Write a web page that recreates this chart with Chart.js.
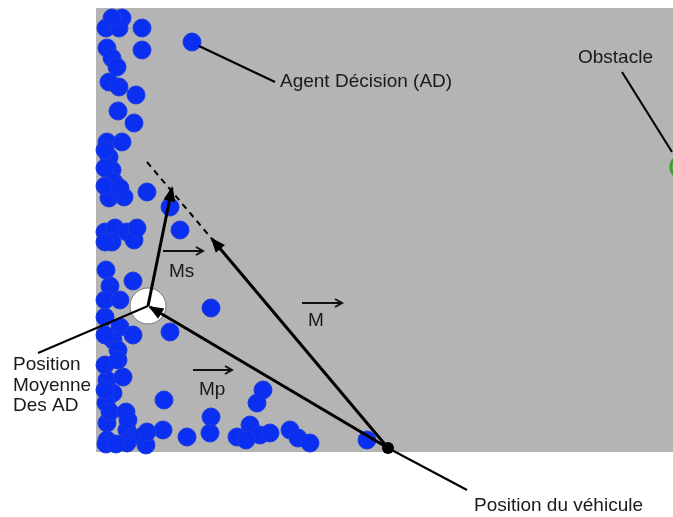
<!DOCTYPE html>
<html>
<head>
<meta charset="utf-8">
<script src="https://cdn.jsdelivr.net/npm/chart.js@4"></script>
<style>
  html, body { margin: 0; padding: 0; background: #fff; }
</style>
</head>
<body>
<canvas id="scene" width="673" height="517"></canvas>
<script>
// agent positions (Agents Décision), in picture units (y grows downward)
const agentX = [122,106,119,142,192,107,142,112,117,109,119,136,118,134,107,122,109,112,114,109,124,147,170,180,
  105,115,127,134,112,106,110,133,105,120,113,133,211,170,
  107,123,113,106,164,211,107,127,141,163,107,127,146,187,210,
  263,257,250,237,260,270,290,298,310,367,
  112,105,105,105,120,105,105,120,137,105,118,105,110,126,106,116,128,147,105,118,246];
const agentY = [18,28,28,28,42,48,50,58,67,82,87,95,111,123,142,142,157,170,182,198,197,192,207,230,
  232,228,232,240,242,270,286,281,317,327,340,335,308,332,
  380,377,393,403,400,417,423,430,437,430,440,443,445,437,433,
  390,403,425,437,435,433,430,438,443,440,
  18,150,168,186,188,242,300,300,228,335,350,390,412,412,444,444,420,432,365,360,440];

const meanPos = [148, 306];
const vehiclePos = [388, 448];
const obstaclePos = [683, 167];

// vectors
const vecMs = [[148, 306], [172, 188]];
const vecM = [[388, 448], [212, 239]];
const vecMp = [[388, 448], [150, 307]];
const vecMExtension = [[147, 162], [212, 239]];

// leader lines to the labels
const leaderAD = [[199, 46], [275, 82]];
const leaderObstacle = [[622, 72], [672, 152]];
const leaderMean = [[148, 306], [38, 353]];
const leaderVehicle = [[388, 448], [467, 490]];

// little vector symbols above the letters
const symbolMs = [[163, 251], [203, 251]];
const symbolM = [[302, 303], [342, 303]];
const symbolMp = [[193, 370], [232, 370]];

const labelTexts = ["Agent Décision (AD)", "Obstacle", "Position", "Moyenne", "Des AD",
  "Position du véhicule", "Ms", "M", "Mp"];
const labelX = [280, 578, 13, 13, 13, 474, 169, 308, 199];
const labelY = [82, 58, 365, 386, 406, 506, 272, 321, 390];

const pts = (seg) => seg.map(p => ({ x: p[0], y: p[1] }));

function lineSet(seg, width, head, extra) {
  return Object.assign({
    type: "line",
    data: pts(seg),
    borderColor: "#000",
    borderWidth: width,
    pointRadius: 0,
    showLine: true,
    fill: false,
    tension: 0,
    head: head,
    order: 2
  }, extra || {});
}

const field = {
  id: "field",
  beforeDatasetsDraw(chart) {
    const { ctx, scales: { x, y } } = chart;
    ctx.save();
    ctx.fillStyle = "#b4b4b4";
    ctx.fillRect(x.getPixelForValue(96), y.getPixelForValue(8),
      x.getPixelForValue(673) - x.getPixelForValue(96),
      y.getPixelForValue(452) - y.getPixelForValue(8));
    ctx.restore();
  }
};

const arrowHeads = {
  id: "arrowHeads",
  afterDatasetsDraw(chart) {
    const ctx = chart.ctx;
    chart.data.datasets.forEach((ds, i) => {
      if (!ds.head) return;
      const d = chart.getDatasetMeta(i).data;
      const a = d[d.length - 2], b = d[d.length - 1];
      const ang = Math.atan2(b.y - a.y, b.x - a.x);
      ctx.save();
      ctx.translate(b.x, b.y);
      ctx.rotate(ang);
      ctx.beginPath();
      if (ds.head === "fill") {
        ctx.moveTo(2, 0);
        ctx.lineTo(-13, -6);
        ctx.lineTo(-13, 6);
        ctx.closePath();
        ctx.fillStyle = "#000";
        ctx.fill();
      } else {
        ctx.moveTo(-7, -4);
        ctx.lineTo(0, 0);
        ctx.lineTo(-7, 4);
        ctx.strokeStyle = "#111";
        ctx.lineWidth = 2;
        ctx.stroke();
      }
      ctx.restore();
    });
  }
};

const labels = {
  id: "labels",
  afterDatasetsDraw(chart) {
    const { ctx, scales: { x, y } } = chart;
    ctx.save();
    ctx.font = "19px 'Liberation Sans', Arial, sans-serif";
    ctx.fillStyle = "#1a1a1a";
    ctx.textBaseline = "middle";
    ctx.textAlign = "left";
    labelTexts.forEach((t, i) => {
      ctx.fillText(t, x.getPixelForValue(labelX[i]), y.getPixelForValue(labelY[i]));
    });
    ctx.restore();
  }
};

new Chart(document.getElementById("scene"), {
  type: "scatter",
  data: {
    datasets: [
      {
        data: agentX.map((v, i) => ({ x: v, y: agentY[i] })),
        backgroundColor: "#0a2ff0",
        borderColor: "#1c3ce0",
        borderWidth: 1,
        pointRadius: 9,
        order: 6
      },
      {
        data: [{ x: meanPos[0], y: meanPos[1] }],
        backgroundColor: "#ffffff",
        borderColor: "#777",
        borderWidth: 1,
        pointRadius: 18,
        order: 5
      },
      {
        data: [{ x: obstaclePos[0], y: obstaclePos[1] }],
        backgroundColor: "#a9bda0",
        borderColor: "#3ea02c",
        borderWidth: 3,
        pointRadius: 12,
        order: 5
      },
      lineSet(vecMExtension, 2, null, { borderDash: [6, 5] }),
      lineSet(vecMs, 3, "fill"),
      lineSet(vecM, 3, "fill"),
      lineSet(vecMp, 3, "fill"),
      lineSet(leaderAD, 2, null),
      lineSet(leaderObstacle, 2, null),
      lineSet(leaderMean, 2, null),
      lineSet(leaderVehicle, 2, null),
      lineSet(symbolMs, 2, "open", { borderColor: "#111" }),
      lineSet(symbolM, 2, "open", { borderColor: "#111" }),
      lineSet(symbolMp, 2, "open", { borderColor: "#111" }),
      {
        data: [{ x: vehiclePos[0], y: vehiclePos[1] }],
        backgroundColor: "#000",
        borderWidth: 0,
        pointRadius: 6,
        order: 1
      }
    ]
  },
  options: {
    responsive: false,
    animation: false,
    devicePixelRatio: 1,
    layout: { padding: 0, autoPadding: false },
    plugins: { legend: { display: false }, tooltip: { enabled: false } },
    scales: {
      x: { type: "linear", min: 0, max: 673, display: false },
      y: { type: "linear", min: 0, max: 517, reverse: true, display: false }
    }
  },
  plugins: [field, arrowHeads, labels]
});
</script>
</body>
</html>
